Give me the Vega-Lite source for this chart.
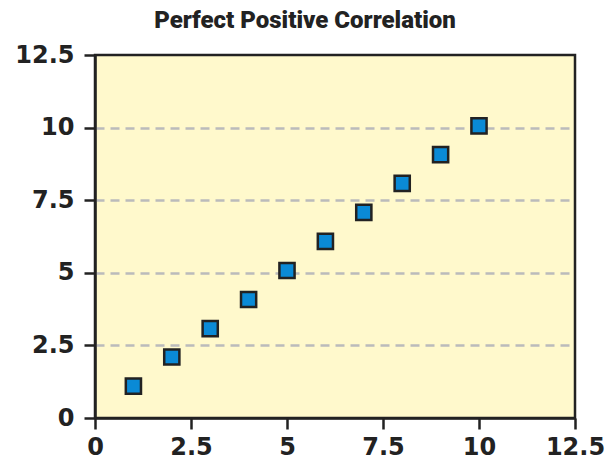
{
  "$schema": "https://vega.github.io/schema/vega-lite/v6.json",
  "autosize": "none",
  "width": 480,
  "height": 363,
  "padding": {"left": 95, "top": 55, "right": 30, "bottom": 42},
  "background": "white",
  "title": {
    "text": "Perfect Positive Correlation",
    "font": "Roboto",
    "fontSize": 24,
    "fontWeight": 900,
    "color": "#222222",
    "anchor": "middle",
    "dx": -30,
    "offset": 10
  },
  "config": {
    "view": {"fill": "#fff9cc", "stroke": "#222222", "strokeWidth": 2.5},
    "axis": {
      "labelFont": "DejaVu Sans",
      "labelFontSize": 24,
      "labelFontWeight": "bold",
      "labelColor": "#222222",
      "domainColor": "#222222",
      "domainWidth": 2.5,
      "tickColor": "#222222",
      "tickWidth": 2.5,
      "tickSize": 11,
      "title": null
    }
  },
  "data": {
    "values": [
      {"x": 1, "y": 1.1},
      {"x": 2, "y": 2.1},
      {"x": 3, "y": 3.08},
      {"x": 4, "y": 4.08},
      {"x": 5, "y": 5.08},
      {"x": 6, "y": 6.08},
      {"x": 7, "y": 7.08},
      {"x": 8, "y": 8.08},
      {"x": 9, "y": 9.07},
      {"x": 10, "y": 10.06}
    ]
  },
  "mark": {"type": "point", "shape": "square", "filled": true, "fill": "#0a8ad6", "stroke": "#222222", "strokeWidth": 2.5, "size": 230, "opacity": 1},
  "encoding": {
    "x": {
      "field": "x", "type": "quantitative",
      "scale": {"domain": [0, 12.5], "nice": false, "zero": true},
      "axis": {"values": [0, 2.5, 5, 7.5, 10, 12.5], "labelExpr": "toString(datum.value)", "grid": false, "labelPadding": 6, "labelFlush": false}
    },
    "y": {
      "field": "y", "type": "quantitative",
      "scale": {"domain": [0, 12.5], "nice": false, "zero": true},
      "axis": {
        "values": [0, 2.5, 5, 7.5, 10, 12.5],
        "labelExpr": "toString(datum.value)",
        "grid": true,
        "gridColor": "#bbbbbb",
        "gridWidth": 2.5,
        "gridDash": [9, 6],
        "gridOpacity": {"condition": {"test": "datum.value == 0 || datum.value == 12.5", "value": 0}, "value": 1},
        "labelPadding": 10,
        "labelFlush": false
      }
    }
  }
}
